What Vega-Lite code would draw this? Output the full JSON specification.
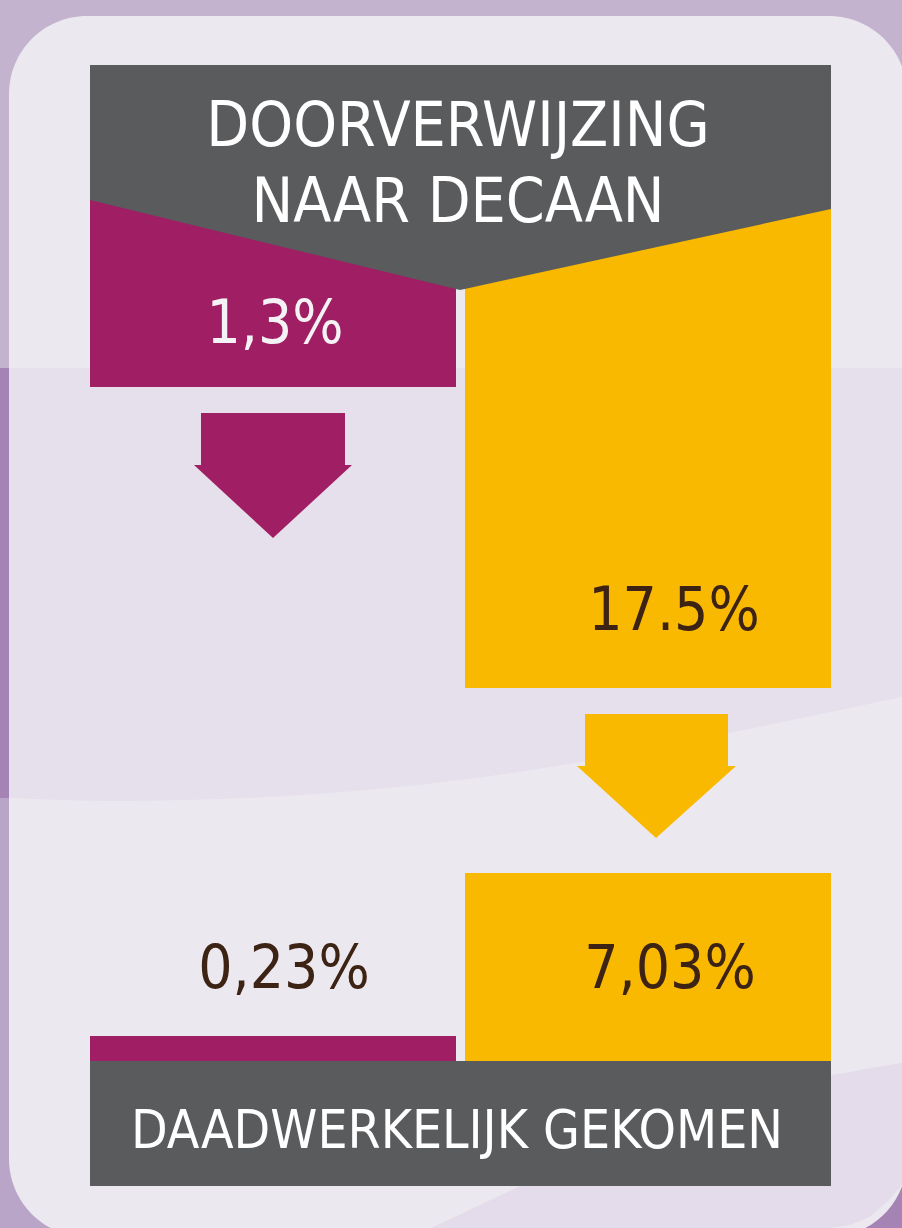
{
  "$schema": "https://vega.github.io/schema/vega-lite/v6.json",
  "width": 902,
  "height": 1228,
  "padding": 0,
  "autosize": {"type": "fit", "contains": "padding"},
  "background": "#c4b3ce",
  "config": {"view": {"stroke": null}, "axis": {"disable": true}, "legend": {"disable": true}},
  "datasets": {
    "blokken": [
      {"deel": "rand-band", "x": 0, "x2": 9, "y": 368, "y2": 798},
      {"deel": "rand-onder", "x": 0, "x2": 90, "y": 798, "y2": 1228},
      {"deel": "rand-hoek", "x": 829, "x2": 902, "y": 1130, "y2": 1228},
      {"deel": "paneel", "x": 9, "x2": 907, "y": 16, "y2": 1237},
      {"deel": "balk", "fase": "verwezen", "groep": "A", "waarde": 1.3, "x": 90, "x2": 456, "y": 200, "y2": 387},
      {"deel": "balk", "fase": "verwezen", "groep": "B", "waarde": 17.5, "x": 465, "x2": 831, "y": 205, "y2": 688},
      {"deel": "balk", "fase": "gekomen", "groep": "A", "waarde": 0.23, "x": 90, "x2": 456, "y": 1036, "y2": 1062},
      {"deel": "balk", "fase": "gekomen", "groep": "B", "waarde": 7.03, "x": 465, "x2": 831, "y": 873, "y2": 1062},
      {"deel": "pijl", "groep": "A", "x": 201, "x2": 345, "y": 413, "y2": 466},
      {"deel": "pijl", "groep": "B", "x": 585, "x2": 728, "y": 714, "y2": 767},
      {"deel": "voet", "x": 90, "x2": 831, "y": 1061, "y2": 1186}
    ],
    "vormen": [
      {"vorm": "band", "x": 9, "y": 368, "y2": 798},
      {"vorm": "band", "x": 115, "y": 368, "y2": 801},
      {"vorm": "band", "x": 300, "y": 368, "y2": 795},
      {"vorm": "band", "x": 460, "y": 368, "y2": 780},
      {"vorm": "band", "x": 575, "y": 368, "y2": 763},
      {"vorm": "band", "x": 719, "y": 368, "y2": 735},
      {"vorm": "band", "x": 902, "y": 368, "y2": 697},
      {"vorm": "hoekvlak", "x": 431, "y": 1228, "y2": 1228},
      {"vorm": "hoekvlak", "x": 518, "y": 1187, "y2": 1228},
      {"vorm": "hoekvlak", "x": 831, "y": 1075, "y2": 1228},
      {"vorm": "hoekvlak", "x": 850, "y": 1072, "y2": 1225},
      {"vorm": "hoekvlak", "x": 870, "y": 1068, "y2": 1217},
      {"vorm": "hoekvlak", "x": 890, "y": 1065, "y2": 1199},
      {"vorm": "hoekvlak", "x": 902, "y": 1063, "y2": 1185},
      {"vorm": "kop", "x": 90, "y": 65, "y2": 200},
      {"vorm": "kop", "x": 460, "y": 65, "y2": 290},
      {"vorm": "kop", "x": 831, "y": 65, "y2": 209},
      {"vorm": "pijlpunt", "groep": "A", "x": 194, "y": 465, "y2": 465},
      {"vorm": "pijlpunt", "groep": "A", "x": 273, "y": 465, "y2": 538},
      {"vorm": "pijlpunt", "groep": "A", "x": 352, "y": 465, "y2": 465},
      {"vorm": "pijlpunt", "groep": "B", "x": 577, "y": 766, "y2": 766},
      {"vorm": "pijlpunt", "groep": "B", "x": 656, "y": 766, "y2": 838},
      {"vorm": "pijlpunt", "groep": "B", "x": 736, "y": 766, "y2": 766}
    ],
    "teksten": [
      {"soort": "kop", "tekst": "DOORVERWIJZING", "x": 458, "y": 146},
      {"soort": "kop", "tekst": "NAAR DECAAN", "x": 458, "y": 222},
      {"soort": "voet", "tekst": "DAADWERKELIJK GEKOMEN", "x": 457, "y": 1148},
      {"soort": "waarde", "groep": "A", "fase": "verwezen", "tekst": "1,3%", "x": 275, "y": 343},
      {"soort": "waarde", "groep": "B", "fase": "verwezen", "tekst": "17.5%", "x": 674, "y": 630},
      {"soort": "waarde", "groep": "A", "fase": "gekomen", "tekst": "0,23%", "x": 284, "y": 988},
      {"soort": "waarde", "groep": "B", "fase": "gekomen", "tekst": "7,03%", "x": 670, "y": 988}
    ]
  },
  "layer": [
    {
      "data": {"name": "blokken"},
      "transform": [{"filter": "datum.deel == 'rand-band' || datum.deel == 'rand-hoek'"}],
      "mark": {"type": "rect", "color": "#a584b5"},
      "encoding": {
        "x": {"field": "x", "type": "quantitative", "scale": {"domain": [0, 902], "nice": false, "zero": false}},
        "x2": {"field": "x2"},
        "y": {"field": "y", "type": "quantitative", "scale": {"domain": [0, 1228], "reverse": true, "nice": false, "zero": false}},
        "y2": {"field": "y2"}
      }
    },
    {
      "data": {"name": "blokken"},
      "transform": [{"filter": "datum.deel == 'rand-onder'"}],
      "mark": {"type": "rect", "color": "#b9a5c8"},
      "encoding": {
        "x": {"field": "x", "type": "quantitative", "scale": {"domain": [0, 902], "nice": false, "zero": false}},
        "x2": {"field": "x2"},
        "y": {"field": "y", "type": "quantitative", "scale": {"domain": [0, 1228], "reverse": true, "nice": false, "zero": false}},
        "y2": {"field": "y2"}
      }
    },
    {
      "data": {"name": "blokken"},
      "transform": [{"filter": "datum.deel == 'paneel'"}],
      "mark": {"type": "rect", "color": "#ece8f0", "cornerRadius": 78, "clip": true},
      "encoding": {
        "x": {"field": "x", "type": "quantitative", "scale": {"domain": [0, 902], "nice": false, "zero": false}},
        "x2": {"field": "x2"},
        "y": {"field": "y", "type": "quantitative", "scale": {"domain": [0, 1228], "reverse": true, "nice": false, "zero": false}},
        "y2": {"field": "y2"}
      }
    },
    {
      "data": {"name": "vormen"},
      "transform": [{"filter": "datum.vorm == 'band'"}],
      "mark": {"type": "area", "color": "#e6dfec", "interpolate": "monotone", "opacity": 1},
      "encoding": {
        "x": {"field": "x", "type": "quantitative", "scale": {"domain": [0, 902], "nice": false, "zero": false}},
        "y": {"field": "y", "type": "quantitative", "scale": {"domain": [0, 1228], "reverse": true, "nice": false, "zero": false}},
        "y2": {"field": "y2"}
      }
    },
    {
      "data": {"name": "vormen"},
      "transform": [{"filter": "datum.vorm == 'hoekvlak'"}],
      "mark": {"type": "area", "color": "#e4dcea", "interpolate": "linear", "opacity": 1},
      "encoding": {
        "x": {"field": "x", "type": "quantitative", "scale": {"domain": [0, 902], "nice": false, "zero": false}},
        "y": {"field": "y", "type": "quantitative", "scale": {"domain": [0, 1228], "reverse": true, "nice": false, "zero": false}},
        "y2": {"field": "y2"}
      }
    },
    {
      "data": {"name": "blokken"},
      "transform": [{"filter": "datum.deel == 'balk' || datum.deel == 'pijl'"}],
      "mark": {"type": "rect"},
      "encoding": {
        "x": {"field": "x", "type": "quantitative", "scale": {"domain": [0, 902], "nice": false, "zero": false}},
        "x2": {"field": "x2"},
        "y": {"field": "y", "type": "quantitative", "scale": {"domain": [0, 1228], "reverse": true, "nice": false, "zero": false}},
        "y2": {"field": "y2"},
        "color": {"field": "groep", "type": "nominal", "scale": {"domain": ["A", "B"], "range": ["#a01e63", "#f9b900"]}, "legend": null}
      }
    },
    {
      "data": {"name": "vormen"},
      "transform": [{"filter": "datum.vorm == 'pijlpunt'"}],
      "mark": {"type": "area", "interpolate": "linear", "opacity": 1},
      "encoding": {
        "x": {"field": "x", "type": "quantitative", "scale": {"domain": [0, 902], "nice": false, "zero": false}},
        "y": {"field": "y", "type": "quantitative", "scale": {"domain": [0, 1228], "reverse": true, "nice": false, "zero": false}},
        "y2": {"field": "y2"},
        "color": {"field": "groep", "type": "nominal", "scale": {"domain": ["A", "B"], "range": ["#a01e63", "#f9b900"]}, "legend": null}
      }
    },
    {
      "data": {"name": "vormen"},
      "transform": [{"filter": "datum.vorm == 'kop'"}],
      "mark": {"type": "area", "color": "#5a5b5d", "interpolate": "linear", "opacity": 1},
      "encoding": {
        "x": {"field": "x", "type": "quantitative", "scale": {"domain": [0, 902], "nice": false, "zero": false}},
        "y": {"field": "y", "type": "quantitative", "scale": {"domain": [0, 1228], "reverse": true, "nice": false, "zero": false}},
        "y2": {"field": "y2"}
      }
    },
    {
      "data": {"name": "blokken"},
      "transform": [{"filter": "datum.deel == 'voet'"}],
      "mark": {"type": "rect", "color": "#5a5b5d"},
      "encoding": {
        "x": {"field": "x", "type": "quantitative", "scale": {"domain": [0, 902], "nice": false, "zero": false}},
        "x2": {"field": "x2"},
        "y": {"field": "y", "type": "quantitative", "scale": {"domain": [0, 1228], "reverse": true, "nice": false, "zero": false}},
        "y2": {"field": "y2"}
      }
    },
    {
      "data": {"name": "teksten"},
      "transform": [{"filter": "datum.soort == 'kop'"}],
      "mark": {"type": "text", "font": "DejaVu Sans Condensed, Liberation Sans, sans-serif", "fontSize": 62, "color": "#ffffff", "align": "center", "baseline": "alphabetic"},
      "encoding": {
        "x": {"field": "x", "type": "quantitative", "scale": {"domain": [0, 902], "nice": false, "zero": false}},
        "y": {"field": "y", "type": "quantitative", "scale": {"domain": [0, 1228], "reverse": true, "nice": false, "zero": false}},
        "text": {"field": "tekst"}
      }
    },
    {
      "data": {"name": "teksten"},
      "transform": [{"filter": "datum.soort == 'voet'"}],
      "mark": {"type": "text", "font": "DejaVu Sans Condensed, Liberation Sans, sans-serif", "fontSize": 53, "color": "#ffffff", "align": "center", "baseline": "alphabetic"},
      "encoding": {
        "x": {"field": "x", "type": "quantitative", "scale": {"domain": [0, 902], "nice": false, "zero": false}},
        "y": {"field": "y", "type": "quantitative", "scale": {"domain": [0, 1228], "reverse": true, "nice": false, "zero": false}},
        "text": {"field": "tekst"}
      }
    },
    {
      "data": {"name": "teksten"},
      "transform": [{"filter": "datum.soort == 'waarde'"}],
      "mark": {"type": "text", "font": "DejaVu Sans Condensed, Liberation Sans, sans-serif", "fontSize": 60, "align": "center", "baseline": "alphabetic"},
      "encoding": {
        "x": {"field": "x", "type": "quantitative", "scale": {"domain": [0, 902], "nice": false, "zero": false}},
        "y": {"field": "y", "type": "quantitative", "scale": {"domain": [0, 1228], "reverse": true, "nice": false, "zero": false}},
        "text": {"field": "tekst"},
        "color": {"condition": {"test": "datum.groep == 'A' && datum.fase == 'verwezen'", "value": "#f4f2f4"}, "value": "#3d2314"}
      }
    }
  ]
}
